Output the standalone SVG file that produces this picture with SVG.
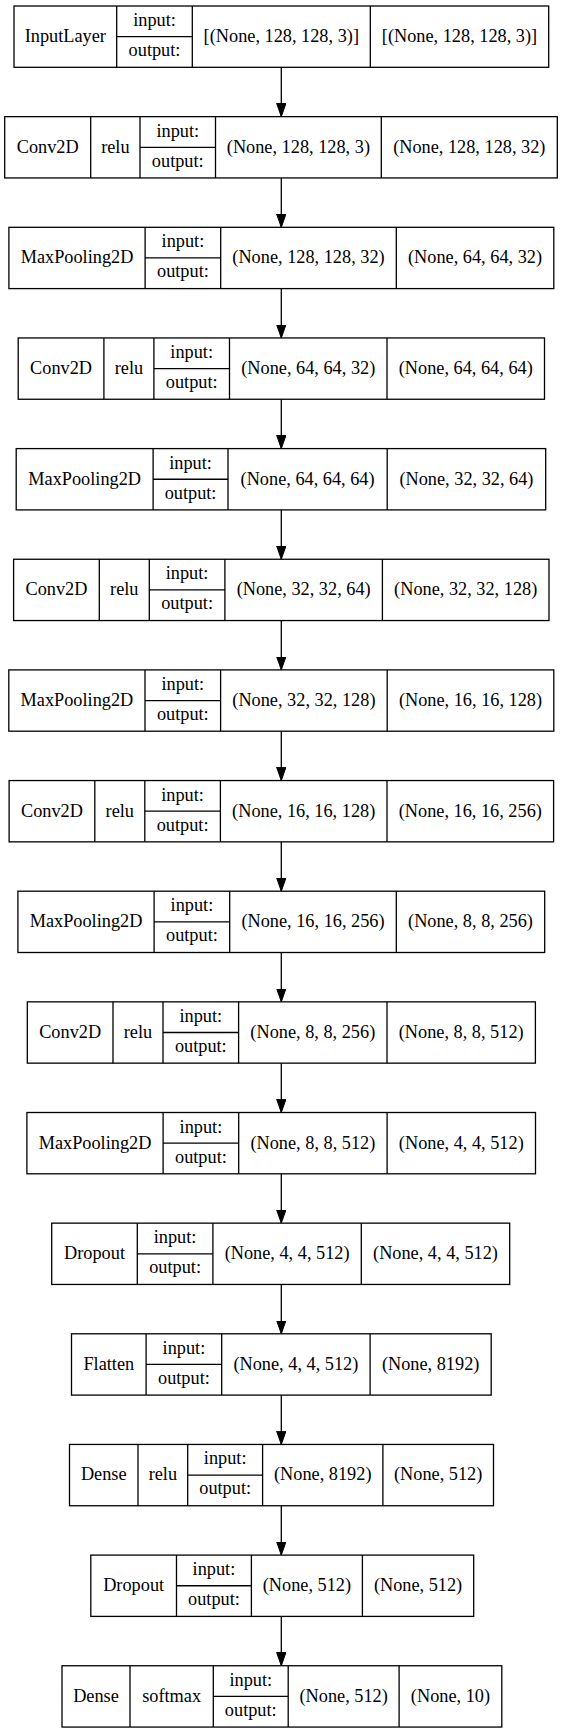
<svg xmlns="http://www.w3.org/2000/svg" width="563" height="1733" viewBox="0 0 563 1733">
<style>
.b{fill:#fff;stroke:#000;stroke-width:1.3}
.l{fill:none;stroke:#000;stroke-width:1.3}
.t text{font-family:'Liberation Serif',Tinos,'Times New Roman',Times,'Nimbus Roman','DejaVu Serif',serif;font-size:18.3px;fill:#000;text-anchor:middle}
</style>
<defs>
<marker id="ah" markerUnits="userSpaceOnUse" markerWidth="14" markerHeight="10" refX="13.3" refY="4.67" orient="auto">
<path d="M0,0 L13.3,4.67 L0,9.33 z" fill="#000" stroke="#000" stroke-width="1"/>
</marker>
</defs>
<rect width="563" height="1733" fill="#fff"/>
<g id="connectors" class="l" marker-end="url(#ah)">
<line x1="281.3" y1="67.3" x2="281.3" y2="116.65"/>
<line x1="281.3" y1="177.95" x2="281.3" y2="227.3"/>
<line x1="281.3" y1="288.6" x2="281.3" y2="337.95"/>
<line x1="281.3" y1="399.25" x2="281.3" y2="448.6"/>
<line x1="281.3" y1="509.9" x2="281.3" y2="559.25"/>
<line x1="281.3" y1="620.55" x2="281.3" y2="669.9"/>
<line x1="281.3" y1="731.2" x2="281.3" y2="780.55"/>
<line x1="281.3" y1="841.85" x2="281.3" y2="891.2"/>
<line x1="281.3" y1="952.5" x2="281.3" y2="1001.85"/>
<line x1="281.3" y1="1063.15" x2="281.3" y2="1112.5"/>
<line x1="281.3" y1="1173.8" x2="281.3" y2="1223.15"/>
<line x1="281.3" y1="1284.45" x2="281.3" y2="1333.8"/>
<line x1="281.3" y1="1395.1" x2="281.3" y2="1444.45"/>
<line x1="281.3" y1="1505.75" x2="281.3" y2="1555.1"/>
<line x1="281.3" y1="1616.4" x2="281.3" y2="1665.75"/>
</g>
<g class="t" font-family="'Liberation Serif', Tinos, 'Times New Roman', Times, serif" font-size="18.3" text-anchor="middle">
<g id="n0">
<rect class="b" x="14" y="6" width="534.7" height="61.3"/>
<path class="l" d="M116.7,6V67.3M192.3,6V67.3M370.3,6V67.3M116.7,36.65H192.3"/>
<text x="65.35" y="42">InputLayer</text><text x="154.5" y="26">input:</text><text x="154.5" y="56">output:</text>
<text x="281.3" y="42">[(None, 128, 128, 3)]</text><text x="459.5" y="42">[(None, 128, 128, 3)]</text>
</g>
<g id="n1">
<rect class="b" x="4.7" y="116.65" width="552.6" height="61.3"/>
<path class="l" d="M90.7,116.65V177.95M140,116.65V177.95M215.5,116.65V177.95M381.3,116.65V177.95M140,147.3H215.5"/>
<text x="47.7" y="152.65">Conv2D</text><text x="115.35" y="152.65">relu</text><text x="177.75" y="136.65">input:</text><text x="177.75" y="166.65">output:</text>
<text x="298.4" y="152.65">(None, 128, 128, 3)</text><text x="469.3" y="152.65">(None, 128, 128, 32)</text>
</g>
<g id="n2">
<rect class="b" x="8.9" y="227.3" width="544.9" height="61.3"/>
<path class="l" d="M145.1,227.3V288.6M220.7,227.3V288.6M396.3,227.3V288.6M145.1,257.95H220.7"/>
<text x="77" y="263.3">MaxPooling2D</text><text x="182.9" y="247.3">input:</text><text x="182.9" y="277.3">output:</text>
<text x="308.5" y="263.3">(None, 128, 128, 32)</text><text x="475.05" y="263.3">(None, 64, 64, 32)</text>
</g>
<g id="n3">
<rect class="b" x="18.2" y="337.95" width="526.3" height="61.3"/>
<path class="l" d="M103.9,337.95V399.25M153.9,337.95V399.25M229.5,337.95V399.25M387,337.95V399.25M153.9,368.6H229.5"/>
<text x="61.05" y="373.95">Conv2D</text><text x="128.9" y="373.95">relu</text><text x="191.7" y="357.95">input:</text><text x="191.7" y="387.95">output:</text>
<text x="308.25" y="373.95">(None, 64, 64, 32)</text><text x="465.75" y="373.95">(None, 64, 64, 64)</text>
</g>
<g id="n4">
<rect class="b" x="16.2" y="448.6" width="529.5" height="61.3"/>
<path class="l" d="M153.1,448.6V509.9M228,448.6V509.9M387.2,448.6V509.9M153.1,479.25H228"/>
<text x="84.65" y="484.6">MaxPooling2D</text><text x="190.55" y="468.6">input:</text><text x="190.55" y="498.6">output:</text>
<text x="307.6" y="484.6">(None, 64, 64, 64)</text><text x="466.45" y="484.6">(None, 32, 32, 64)</text>
</g>
<g id="n5">
<rect class="b" x="13.6" y="559.25" width="535.4" height="61.3"/>
<path class="l" d="M99.3,559.25V620.55M149.3,559.25V620.55M224.9,559.25V620.55M382.4,559.25V620.55M149.3,589.9H224.9"/>
<text x="56.45" y="595.25">Conv2D</text><text x="124.3" y="595.25">relu</text><text x="187.1" y="579.25">input:</text><text x="187.1" y="609.25">output:</text>
<text x="303.65" y="595.25">(None, 32, 32, 64)</text><text x="465.7" y="595.25">(None, 32, 32, 128)</text>
</g>
<g id="n6">
<rect class="b" x="8.8" y="669.9" width="545" height="61.3"/>
<path class="l" d="M145,669.9V731.2M220.6,669.9V731.2M387.2,669.9V731.2M145,700.55H220.6"/>
<text x="76.9" y="705.9">MaxPooling2D</text><text x="182.8" y="689.9">input:</text><text x="182.8" y="719.9">output:</text>
<text x="303.9" y="705.9">(None, 32, 32, 128)</text><text x="470.5" y="705.9">(None, 16, 16, 128)</text>
</g>
<g id="n7">
<rect class="b" x="9.1" y="780.55" width="544.5" height="61.3"/>
<path class="l" d="M94.8,780.55V841.85M144.8,780.55V841.85M220.4,780.55V841.85M387,780.55V841.85M144.8,811.2H220.4"/>
<text x="51.95" y="816.55">Conv2D</text><text x="119.8" y="816.55">relu</text><text x="182.6" y="800.55">input:</text><text x="182.6" y="830.55">output:</text>
<text x="303.7" y="816.55">(None, 16, 16, 128)</text><text x="470.3" y="816.55">(None, 16, 16, 256)</text>
</g>
<g id="n8">
<rect class="b" x="17.9" y="891.2" width="526.8" height="61.3"/>
<path class="l" d="M154.1,891.2V952.5M229.7,891.2V952.5M396.3,891.2V952.5M154.1,921.85H229.7"/>
<text x="86" y="927.2">MaxPooling2D</text><text x="191.9" y="911.2">input:</text><text x="191.9" y="941.2">output:</text>
<text x="313" y="927.2">(None, 16, 16, 256)</text><text x="470.5" y="927.2">(None, 8, 8, 256)</text>
</g>
<g id="n9">
<rect class="b" x="27.3" y="1001.85" width="508.1" height="61.3"/>
<path class="l" d="M113,1001.85V1063.15M163,1001.85V1063.15M238.6,1001.85V1063.15M387,1001.85V1063.15M163,1032.5H238.6"/>
<text x="70.15" y="1037.85">Conv2D</text><text x="138" y="1037.85">relu</text><text x="200.8" y="1021.85">input:</text><text x="200.8" y="1051.85">output:</text>
<text x="312.8" y="1037.85">(None, 8, 8, 256)</text><text x="461.2" y="1037.85">(None, 8, 8, 512)</text>
</g>
<g id="n10">
<rect class="b" x="26.9" y="1112.5" width="508.6" height="61.3"/>
<path class="l" d="M163.1,1112.5V1173.8M238.7,1112.5V1173.8M387.1,1112.5V1173.8M163.1,1143.15H238.7"/>
<text x="95" y="1148.5">MaxPooling2D</text><text x="200.9" y="1132.5">input:</text><text x="200.9" y="1162.5">output:</text>
<text x="312.9" y="1148.5">(None, 8, 8, 512)</text><text x="461.3" y="1148.5">(None, 4, 4, 512)</text>
</g>
<g id="n11">
<rect class="b" x="51.7" y="1223.15" width="458" height="61.3"/>
<path class="l" d="M137.3,1223.15V1284.45M212.9,1223.15V1284.45M361.3,1223.15V1284.45M137.3,1253.8H212.9"/>
<text x="94.5" y="1259.15">Dropout</text><text x="175.1" y="1243.15">input:</text><text x="175.1" y="1273.15">output:</text>
<text x="287.1" y="1259.15">(None, 4, 4, 512)</text><text x="435.5" y="1259.15">(None, 4, 4, 512)</text>
</g>
<g id="n12">
<rect class="b" x="71.5" y="1333.8" width="419.7" height="61.3"/>
<path class="l" d="M146.1,1333.8V1395.1M221.7,1333.8V1395.1M370.1,1333.8V1395.1M146.1,1364.45H221.7"/>
<text x="108.8" y="1369.8">Flatten</text><text x="183.9" y="1353.8">input:</text><text x="183.9" y="1383.8">output:</text>
<text x="295.9" y="1369.8">(None, 4, 4, 512)</text><text x="430.65" y="1369.8">(None, 8192)</text>
</g>
<g id="n13">
<rect class="b" x="69.5" y="1444.45" width="424" height="61.3"/>
<path class="l" d="M138,1444.45V1505.75M187.7,1444.45V1505.75M262.6,1444.45V1505.75M382.9,1444.45V1505.75M187.7,1475.1H262.6"/>
<text x="103.75" y="1480.45">Dense</text><text x="162.85" y="1480.45">relu</text><text x="225.15" y="1464.45">input:</text><text x="225.15" y="1494.45">output:</text>
<text x="322.75" y="1480.45">(None, 8192)</text><text x="438.2" y="1480.45">(None, 512)</text>
</g>
<g id="n14">
<rect class="b" x="90.8" y="1555.1" width="382.9" height="61.3"/>
<path class="l" d="M176.5,1555.1V1616.4M251.4,1555.1V1616.4M362.4,1555.1V1616.4M176.5,1585.75H251.4"/>
<text x="133.65" y="1591.1">Dropout</text><text x="213.95" y="1575.1">input:</text><text x="213.95" y="1605.1">output:</text>
<text x="306.9" y="1591.1">(None, 512)</text><text x="418.05" y="1591.1">(None, 512)</text>
</g>
<g id="n15">
<rect class="b" x="62" y="1665.75" width="439.8" height="61.3"/>
<path class="l" d="M130,1665.75V1727.05M213.3,1665.75V1727.05M288.2,1665.75V1727.05M399.1,1665.75V1727.05M213.3,1696.4H288.2"/>
<text x="96" y="1701.75">Dense</text><text x="171.65" y="1701.75">softmax</text><text x="250.75" y="1685.75">input:</text><text x="250.75" y="1715.75">output:</text>
<text x="343.65" y="1701.75">(None, 512)</text><text x="450.45" y="1701.75">(None, 10)</text>
</g>
</g>
</svg>
